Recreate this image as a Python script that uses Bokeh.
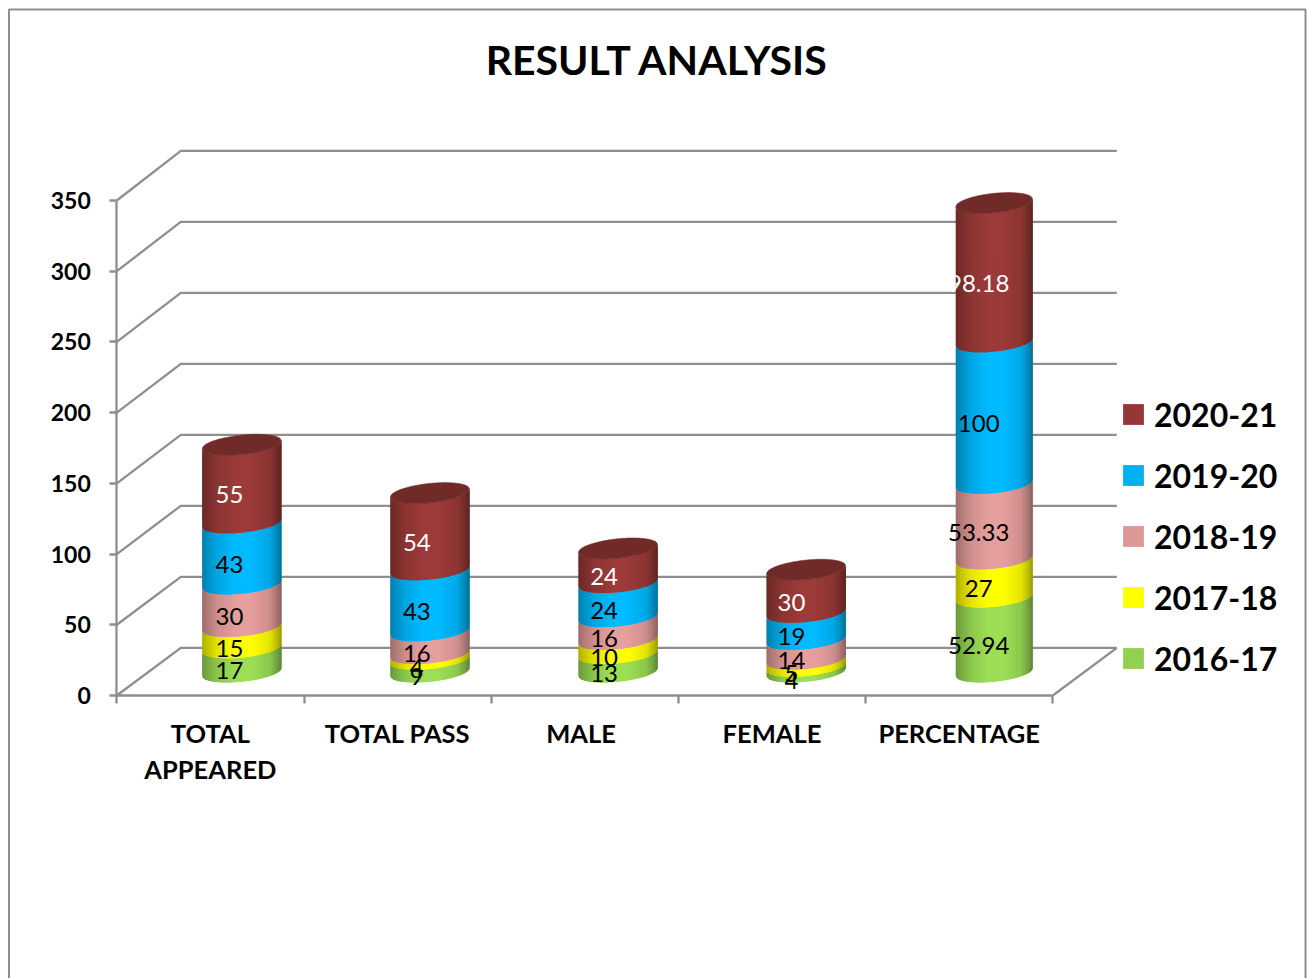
from bokeh.plotting import figure
from bokeh.models import LinearAxis, FixedTicker, Legend, LegendItem, ColumnDataSource
from bokeh.core.properties import value
from bokeh.embed import file_html
from bokeh.resources import INLINE
import numpy as np

# ---------- data ----------
categories = ["TOTAL\nAPPEARED", "TOTAL PASS", "MALE", "FEMALE", "PERCENTAGE"]
series_names = ["2016-17", "2017-18", "2018-19", "2019-20", "2020-21"]
s2016 = [17, 9, 13, 4, 52.94]
s2017 = [15, 4, 10, 5, 27]
s2018 = [30, 16, 16, 14, 53.33]
s2019 = [43, 43, 24, 19, 100]
s2020 = [55, 54, 24, 30, 98.18]
y_ticks = [0, 50, 100, 150, 200, 250, 300, 350]
title_text = "RESULT ANALYSIS"

# ---------- style ----------
legend_colors = ["#92D050", "#FFFF00", "#DD9896", "#00B0F0", "#953735"]
body_colors = ["#9CDE55", "#FFFF00", "#E69F9D", "#00BAFF", "#9C3B39"]
lid_color = "#702A28"
label_colors = ["black", "black", "black", "black", "white"]
GRAY = "#8E8E8E"
LW = 2.3
FONT = "Lato"

# ---------- layout: page pixels -> data units ----------
W, H = 1307, 978
X0, CAT_W = 116.3, 187.2        # page px of category 0 / px per category
Y0, V_SCALE = 695.0, 1.4143     # page px of value 0 / px per value unit
def dx(px): return (px - X0) / CAT_W
def dy(py): return (Y0 - py) / V_SCALE

p = figure(width=W, height=H, output_backend="svg", toolbar_location=None,
           x_range=(dx(0), dx(W)), y_range=(dy(H), dy(0)),
           min_border=0, outline_line_color=None, background_fill_color="white")
p.grid.visible = False

# outer chart border (runs off the bottom of the page)
p.line([dx(8.5), dx(8.5), dx(1305), dx(1305)], [dy(990), dy(9), dy(9), dy(990)],
       line_color=GRAY, line_width=2)

# back wall grid lines and floor
DEPTH_X, DEPTH_Y = 64 / CAT_W, 47.7 / V_SCALE
WALL_STRETCH = 1.42 / V_SCALE
n_cat = len(categories)
for t in y_ticks:
    wall = DEPTH_Y + t * WALL_STRETCH
    p.line([0, DEPTH_X, n_cat + DEPTH_X], [t, wall, wall], line_color=GRAY, line_width=LW)
p.line([n_cat, n_cat + DEPTH_X], [0, DEPTH_Y], line_color=GRAY, line_width=LW)

# axes at fixed data locations
yax = p.yaxis[0]
yax.fixed_location = 0
yax.bounds = (0, 350)
yax.ticker = FixedTicker(ticks=y_ticks)
yax.minor_tick_line_color = None
yax.major_tick_in = 0
yax.major_tick_out = 7
yax.major_tick_line_color = GRAY
yax.major_tick_line_width = LW
yax.axis_line_color = GRAY
yax.axis_line_width = LW
yax.major_label_standoff = 19
yax.major_label_text_font = FONT
yax.major_label_text_font_style = "bold"
yax.major_label_text_font_size = "23px"
yax.major_label_text_color = "black"

xax = p.xaxis[0]
xax.fixed_location = 0
xax.bounds = (0, n_cat)
xax.ticker = FixedTicker(ticks=list(range(n_cat + 1)))
xax.major_label_text_font_size = "0px"
xax.major_label_overrides = {i: "" for i in range(n_cat + 1)}
xax.minor_tick_line_color = None
xax.major_tick_in = 0
xax.major_tick_out = 8
xax.major_tick_line_color = GRAY
xax.major_tick_line_width = LW
xax.axis_line_color = GRAY
xax.axis_line_width = LW

cat_ticks = [0.5, 1.5, 2.48, 3.5, 4.5]
xlab = LinearAxis(fixed_location=0, ticker=FixedTicker(ticks=cat_ticks),
                  major_label_overrides=dict(zip(cat_ticks, categories)),
                  axis_line_color=None, major_tick_line_color=None,
                  minor_tick_line_color=None, major_tick_in=0, major_tick_out=0,
                  major_label_standoff=22,
                  major_label_text_font=FONT, major_label_text_font_style="bold",
                  major_label_text_font_size="25.5px", major_label_text_color="black",
                  major_label_text_line_height=1.22)
p.add_layout(xlab, "below")

# ---------- cylinders ----------
CYL_X0_PX, CYL_STEP_PX = 241.3, 188.1     # column centres, page px
LAB_X0_PX, LAB_STEP_PX = 229.0, 187.3     # data label centres, page px
CYL_HALF_W = [39.7, 39.7, 39.7, 39.7, 38.5]
CYL_BASE = 23.5 / V_SCALE                 # column base above value 0
CYL_STRETCH = [1.42 / V_SCALE] * 4 + [1.415 / V_SCALE]   # perspective stretch
ELL_B, TILT = 9.7 / V_SCALE, 0.1 / V_SCALE
N = 40
shade_x = [0.0, 0.06, 0.2, 0.42, 0.62, 0.85, 0.95, 1.0]
shade_f = [0.68, 0.76, 0.9, 1.0, 1.0, 0.9, 0.72, 0.6]

def front(a, h, t):
    """front (lower) edge of the tilted ellipse at height h"""
    return CYL_BASE + h + TILT * t * a - ELL_B * np.sqrt(np.clip(1 - t * t, 0, 1))

def back(a, h, t):
    return CYL_BASE + h + TILT * t * a + ELL_B * np.sqrt(np.clip(1 - t * t, 0, 1))

def shade(col, f):
    c = col.lstrip("#")
    r, g, b = (int(c[i:i + 2], 16) for i in (0, 2, 4))
    return "#%02x%02x%02x" % (int(r * f), int(g * f), int(b * f))

series = [s2016, s2017, s2018, s2019, s2020]
edges = np.linspace(-1, 1, N + 1)
xs, ys, cols = [], [], []
lab_x, lab_y, lab_t, lab_c = [], [], [], []
for i in range(n_cat):
    cx = dx(CYL_X0_PX + CYL_STEP_PX * i)
    a = CYL_HALF_W[i]
    st = CYL_STRETCH[i]
    base = 0.0
    for s, vals in enumerate(series):
        v = vals[i]
        top = base + v
        for k in range(N):
            # each strip reaches under its right neighbour so no seams show
            tt = np.linspace(edges[k], edges[min(k + 2, N)], 6)
            xx = cx + tt * a / CAT_W
            lo = front(a, base * st, tt)
            hi = front(a, top * st, tt)
            xs.append(list(xx) + list(xx[::-1]))
            ys.append(list(lo) + list(hi[::-1]))
            cols.append(shade(body_colors[s], float(np.interp((k + 0.5) / N, shade_x, shade_f))))
        lab_x.append(dx(LAB_X0_PX + LAB_STEP_PX * i))
        lab_y.append(CYL_BASE + (base + v / 2) * st - 11 / V_SCALE)
        lab_t.append(str(v))
        lab_c.append(label_colors[s])
        base = top
    # lid
    tt = np.linspace(-1, 1, 60)
    p.patch(list(cx + tt * a / CAT_W) + list(cx + tt[::-1] * a / CAT_W),
            list(back(a, base * st, tt)) + list(front(a, base * st, tt[::-1])),
            fill_color=lid_color, line_color=lid_color, line_width=0.5, level="overlay")

p.patches(xs, ys, fill_color=cols, line_color=None)

p.text(x="x", y="y", text="t", text_color="c",
       source=ColumnDataSource(dict(x=lab_x, y=lab_y, t=lab_t, c=lab_c)),
       text_font=value(FONT), text_font_size="24px",
       text_align="center", text_baseline="middle", level="overlay")

# title
p.text(x=[dx(657)], y=[dy(59)], text=[title_text], text_font=value(FONT),
       text_font_style="bold", text_font_size="41px", text_color="black",
       text_align="center", text_baseline="middle")

# legend
dummies = [p.quad(left=[np.nan], right=[np.nan], top=[np.nan], bottom=[np.nan],
                  fill_color=legend_colors[s], line_color=None) for s in range(5)]
legend = Legend(items=[LegendItem(label=series_names[s], renderers=[dummies[s]])
                       for s in range(4, -1, -1)],
                location=(1120, 300), orientation="vertical",
                glyph_width=26, glyph_height=26, label_standoff=8,
                spacing=21, padding=0, margin=0,
                border_line_color=None, background_fill_alpha=0,
                label_text_font=FONT, label_text_font_style="bold",
                label_text_font_size="32px", label_text_color="black",
                label_height=40)
p.add_layout(legend, "center")

open("out.html", "w").write(file_html(p, INLINE))
